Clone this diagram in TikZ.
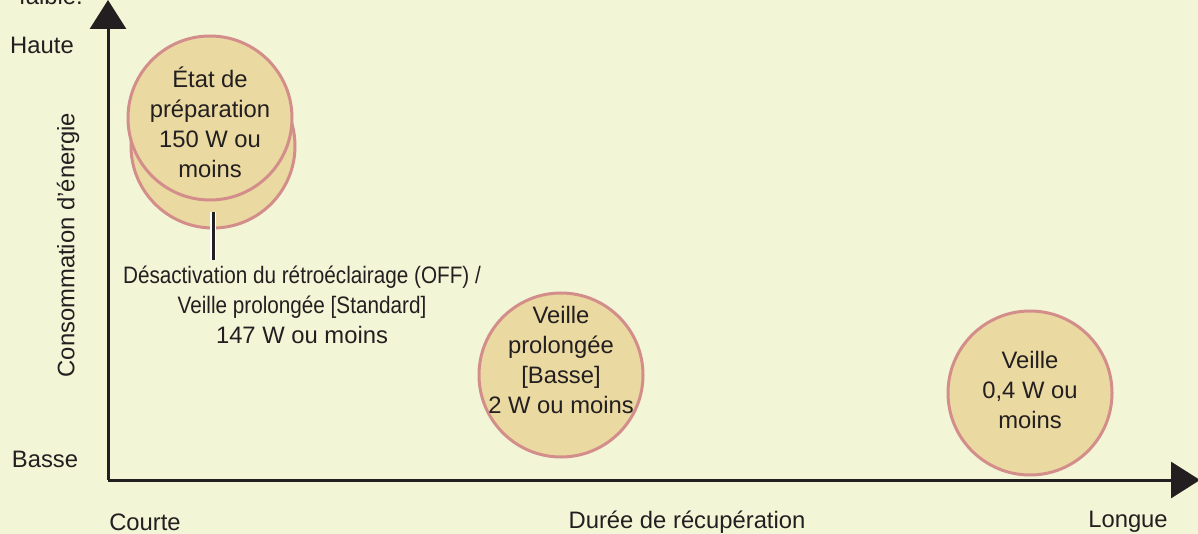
\documentclass[tikz,border=0pt]{standalone}
\usepackage{fontspec}
\setmainfont{Liberation Sans}
\newfontfamily\narrowfont[FakeStretch=0.87]{Liberation Sans}
\usetikzlibrary{arrows.meta}
\definecolor{bg}{HTML}{F2F5D6}
\definecolor{circfill}{HTML}{EAD9A0}
\definecolor{circline}{HTML}{D38E8C}
\definecolor{txt}{HTML}{231F20}
\tikzset{
  lbl/.style={text=txt, font=\fontsize{23.8}{30}\selectfont, inner sep=0pt, align=center},
  bubble/.style={circle, draw=circline, line width=3pt, fill=circfill, minimum size=164pt, inner sep=0pt},
  axis/.style={draw=txt, line width=3pt, -{Triangle[length=29pt,width=36pt]}},
}
\begin{document}
\begin{tikzpicture}[x=1pt,y=-1pt]
\useasboundingbox (0,0) rectangle (1198,534);
\fill[bg] (0,0) rectangle (1198,534);
% axes
\coordinate (origin) at (108,480);
\coordinate (ytip) at (108,0);
\coordinate (xtip) at (1200,480);
\draw[axis] (origin) -- (ytip);
\draw[axis] (origin) -- (xtip);
% axis labels
\node[lbl] (faible) at (51,-4) {faible.};
\node[lbl] (haute) at (42,45) {Haute};
\node[lbl] (basse) at (45,459) {Basse};
\node[lbl] (courte) at (145,522) {Courte};
\node[lbl] (duree) at (687,522) {Durée de récupération};
\node[lbl] (longue) at (1128,522) {Longue};
\node[lbl, rotate=90] (conso) at (68,245) {Consommation d’énergie};
% bubbles
\node[bubble] (prepback) at (213,146) {};
\node[bubble] (prep) at (210,118) {};
\node[lbl] (preptxt) at (210,122) {État de\\préparation\\150 W ou\\moins};
\node[bubble] (basseB) at (561,375) {};
\node[lbl] (bassetxt) at (561,360) {Veille\\prolongée\\{}[Basse]\\2 W ou moins};
\node[bubble] (veille) at (1030,393) {};
\node[lbl] (veilletxt) at (1030,390) {Veille\\0,4 W ou\\moins};
% callout label
\node[lbl, anchor=north] (retro) at (302,266) {{\narrowfont Désactivation du rétroéclairage (OFF) /}\\{\narrowfont Veille prolongée [Standard]}\\147 W ou moins};
\coordinate (tickTop) at (213,212);
\coordinate (tickBot) at (213,260);
\draw[white, line width=5.5pt] (tickTop) -- (tickBot);
\draw[txt, line width=3pt] (tickTop) -- (tickBot);
\end{tikzpicture}
\end{document}
